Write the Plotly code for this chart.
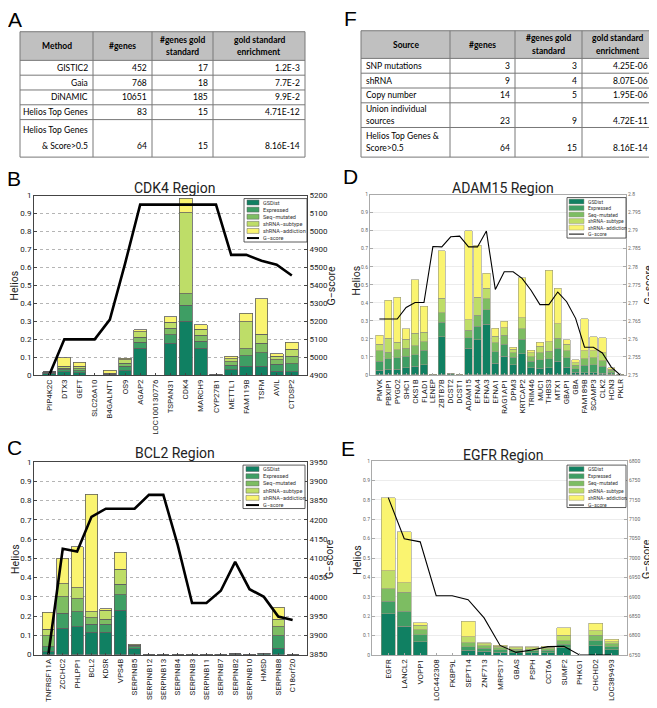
import plotly.graph_objects as go

# page body has an 8px margin; the figure is sized so it fills the 657x708 window
W, H = 657, 708
OFF = 8
FW, FH = W - OFF, H - OFF


def fx(x):
    return (x - OFF) / FW


def fy(y):
    return 1 - (y - OFF) / FH


# ---------------- shared series ----------------
series_names = ["GSDist", "Expressed", "Seq−mutated", "shRNA−subtype", "shRNA−addiction"]
line_name = "G−score"
series_colors = ["rgb(16,128,98)", "rgb(62,158,100)", "rgb(125,189,98)",
                 "rgb(190,221,104)", "rgb(250,244,112)"]

helios_tickvals = [0, 0.1, 0.2, 0.3, 0.4, 0.5, 0.6, 0.7, 0.8, 0.9, 1]
helios_ticktext = ["0", "0.1", "0.2", "0.3", "0.4", "0.5", "0.6", "0.7", "0.8", "0.9", "1"]

# ---------------- Table A ----------------
headers_A = ["Method", "#genes", "#genes gold<br>standard", "gold standard<br>enrichment"]
methods_A = ["GISTIC2", "Gaia", "DiNAMIC", "Helios Top Genes", "Helios Top Genes<br>& Score>0.5"]
ngenes_A = ["452", "768", "10651", "83", "64"]
ngold_A = ["17", "18", "185", "15", "15"]
enrich_A = ["1.2E-3", "7.7E-2", "9.9E-2", "4.71E-12", "8.16E-14"]

# ---------------- Table F ----------------
headers_F = ["Source", "#genes", "#genes gold<br>standard", "gold standard<br>enrichment"]
sources_F = ["SNP mutations", "shRNA", "Copy number", "Union individual<br>sources",
             "Helios Top Genes &<br>Score>0.5"]
ngenes_F = ["3", "9", "14", "23", "64"]
ngold_F = ["3", "4", "5", "9", "15"]
enrich_F = ["4.25E-06", "8.07E-06", "1.95E-06", "4.72E-11", "8.16E-14"]

# ---------------- Panel B : CDK4 ----------------
cats_B = ["PIP4K2C", "DTX3", "GEFT", "SLC26A10", "B4GALNT1", "OS9", "AGAP2", "LOC100130776",
          "TSPAN31", "CDK4", "MARCH9", "CYP27B1", "METTL1", "FAM119B", "TSFM", "AVIL", "CTDSP2"]
gsdist_B = [0.012, 0.02, 0.015, 0, 0.003, 0.025, 0.15, 0, 0.178, 0.30, 0.149, 0.005, 0.03, 0.05, 0.05, 0.022, 0.02]
expr_B = [0.004, 0.01, 0.01, 0, 0.002, 0.025, 0.033, 0, 0.048, 0.09, 0.041, 0.001, 0.025, 0.06, 0.075, 0.038, 0.045]
seqmut_B = [0.002, 0.01, 0.01, 0, 0.003, 0.018, 0.028, 0, 0.036, 0.063, 0.034, 0.001, 0.02, 0.037, 0.053, 0.025, 0.04]
subtype_B = [0.002, 0.01, 0.015, 0, 0.004, 0.017, 0.031, 0, 0.033, 0.452, 0.031, 0, 0.017, 0.15, 0.05, 0.02, 0.04]
addict_B = [0, 0.048, 0.022, 0, 0.016, 0.01, 0.011, 0, 0.03, 0.08, 0.025, 0, 0.014, 0.048, 0.197, 0.016, 0.04]
gscore_B = [4900, 5100, 5100, 5100, 5210, 5520, 5850, 5850, 5850, 5850, 5850, 5850, 5570, 5570, 5537, 5515, 5455]
g_tickvals_B = [4900, 5000, 5100, 5200, 5300, 5400, 5500, 5600, 5700, 5800, 5900]
g_ticktext_B = ["4900", "5000", "5100", "5200", "5300", "5400", "5500", "4900", "5000", "5100", "5200"]

# ---------------- Panel C : BCL2 ----------------
cats_C = ["TNFRSF11A", "ZCCHC2", "PHLPP1", "BCL2", "KDSR", "VPS4B", "SERPINB5", "SERPINB12",
          "SERPINB13", "SERPINB4", "SERPINB3", "SERPINB11", "SERPINB7", "SERPINB2", "SERPINB10",
          "HMSD", "SERPINB8", "C18orf20"]
gsdist_C = [0.015, 0.138, 0.144, 0.116, 0.117, 0.23, 0.03, 0, 0, 0, 0, 0, 0.002, 0.003, 0, 0.005, 0.034, 0]
expr_C = [0.026, 0.076, 0.078, 0.041, 0.04, 0.081, 0.01, 0, 0, 0, 0, 0, 0.001, 0.001, 0, 0.002, 0.063, 0]
seqmut_C = [0.056, 0.086, 0.067, 0.034, 0.028, 0.055, 0.005, 0, 0, 0, 0, 0, 0, 0.001, 0, 0.001, 0.047, 0]
subtype_C = [0.035, 0.067, 0.058, 0.033, 0.045, 0.078, 0.005, 0, 0, 0, 0, 0, 0, 0, 0, 0, 0.041, 0]
addict_C = [0.088, 0.133, 0.213, 0.609, 0.009, 0.088, 0.005, 0, 0, 0, 0, 0, 0, 0, 0, 0, 0.061, 0]
gscore_C = [3850, 4125, 4118, 4208, 4229, 4229, 4229, 4265, 4265, 4135, 3984, 3984, 4016, 4091,
            4020, 4000, 3949, 3940]
g_tickvals_C = [3850, 3900, 3950, 4000, 4050, 4100, 4150, 4200, 4250, 4300, 4350]
g_ticktext_C = ["3850", "3900", "3950", "4000", "4050", "4100", "4150", "4200", "3850", "3900", "3950"]

# ---------------- Panel D : ADAM15 ----------------
cats_D = ["PMVK", "PBXIP1", "PYGO2", "SHC1", "CKS1B", "FLAD1", "LENEP", "ZBTB7B", "DCST2", "DCST1",
          "ADAM15", "EFNA4", "EFNA3", "EFNA1", "RAG1AP1", "DPM3", "KRTCAP2", "TRIM46", "MUC1",
          "THBS3", "MTX1", "GBAP1", "GBA", "FAM189B", "SCAMP3", "CLK2", "HCN3", "PKLR"]
gsdist_D = [0.027, 0.031, 0.031, 0.04, 0.049, 0.058, 0, 0.213, 0.007, 0, 0.149, 0.195, 0.28, 0.065,
            0.104, 0.058, 0.118, 0.04, 0.036, 0.04, 0.076, 0.044, 0.016, 0.013, 0.013, 0.009, 0.005, 0.002]
expr_D = [0.048, 0.058, 0.064, 0.064, 0.062, 0.078, 0, 0.08, 0.002, 0, 0.058, 0.076, 0.082, 0.064,
          0.067, 0.04, 0.08, 0.035, 0.049, 0.051, 0.073, 0.051, 0.019, 0.042, 0.043, 0.04, 0.01, 0.001]
seqmut_D = [0.058, 0.038, 0.045, 0.043, 0.051, 0.049, 0, 0.052, 0.001, 0, 0.042, 0.06, 0.06, 0.051,
            0.049, 0.024, 0.058, 0.025, 0.037, 0.04, 0.055, 0.04, 0.018, 0.034, 0.039, 0.031, 0.01, 0.001]
subtype_D = [0.038, 0.077, 0.042, 0.051, 0.069, 0.051, 0, 0.08, 0, 0, 0.058, 0.099, 0.06, 0.036,
             0.042, 0.022, 0.062, 0.022, 0.036, 0.054, 0.081, 0.036, 0.014, 0.046, 0.04, 0.042, 0.007, 0.001]
addict_D = [0.049, 0.211, 0.248, 0.058, 0.296, 0.144, 0, 0.265, 0, 0, 0.493, 0.288, 0.082, 0.042,
            0.036, 0.011, 0.222, 0.014, 0.024, 0.395, 0.195, 0.024, 0.018, 0.176, 0.078, 0.085, 0.008, 0]
gscore_D = [2.7655, 2.7655, 2.7655, 2.7687, 2.7701, 2.7701, 2.7856, 2.7855, 2.7883, 2.7885, 2.7855,
            2.7855, 2.7899, 2.7737, 2.7786, 2.7786, 2.7768, 2.7735, 2.7695, 2.7695, 2.773, 2.7703,
            2.7657, 2.7577, 2.7577, 2.7561, 2.7522, 2.75]
g_tickvals_D = [2.75, 2.755, 2.76, 2.765, 2.77, 2.775, 2.78, 2.785, 2.79, 2.795, 2.8]
g_ticktext_D = ["2.75", "2.755", "2.76", "2.765", "2.77", "2.775", "2.78", "2.785", "2.79", "2.795", "2.8"]

# ---------------- Panel E : EGFR ----------------
cats_E = ["EGFR", "LANCL2", "VOPP1", "LOC442308", "FKBP9L", "SEPT14", "ZNF713", "MRPS17", "GBAS",
          "PSPH", "CCT6A", "SUMF2", "PHKG1", "CHCHD2", "LOC389493"]
gsdist_E = [0.213, 0.15, 0.068, 0, 0, 0.024, 0.02, 0.015, 0.012, 0.012, 0.013, 0.039, 0, 0.048, 0.027]
expr_E = [0.065, 0.077, 0.036, 0, 0, 0.019, 0.015, 0.013, 0.01, 0.01, 0.011, 0.017, 0, 0.025, 0.017]
seqmut_E = [0.065, 0.097, 0.027, 0, 0, 0.02, 0.013, 0.01, 0.008, 0.009, 0.009, 0.017, 0, 0.029, 0.014]
subtype_E = [0.092, 0.048, 0.024, 0, 0, 0.031, 0.01, 0.008, 0.007, 0.007, 0.007, 0.029, 0, 0.023, 0.012]
addict_E = [0.377, 0.263, 0.012, 0, 0, 0.08, 0.007, 0.005, 0.006, 0.006, 0.006, 0.038, 0, 0.039, 0.012]
gscore_E = [7156, 7050, 7042, 6903, 6903, 6893, 6846, 6775, 6757, 6763, 6772, 6773, 6750, 6750, 6750]
g_tickvals_E = [6750, 6800, 6850, 6900, 6950, 7000, 7050, 7100, 7150, 7200, 7250]
g_ticktext_E = ["6750", "6800", "6850", "6900", "6950", "7000", "7050", "7100", "7150", "6750", "6800"]

FONT = "Roboto, Liberation Sans, Arial"
TFONT = "Lato, Noto Sans, Liberation Sans"

fig = go.Figure()
shapes = []
annotations = []
layout_axes = {}


def text_at(x, y, text, size, color="#222", family=FONT, xanchor="center", angle=0):
    annotations.append(dict(x=fx(x), y=fy(y), xref="paper", yref="paper", text=text, showarrow=False,
                            xanchor=xanchor, yanchor="middle", textangle=angle,
                            font=dict(family=family, size=size, color=color)))


def hline(x0, x1, y, color, width):
    shapes.append(dict(type="line", xref="paper", yref="paper", x0=fx(x0), x1=fx(x1), y0=fy(y), y1=fy(y),
                       line=dict(color=color, width=width), layer="above"))


def vline(x, y0, y1, color, width):
    shapes.append(dict(type="line", xref="paper", yref="paper", x0=fx(x), x1=fx(x), y0=fy(y0), y1=fy(y1),
                       line=dict(color=color, width=width), layer="above"))


def draw_table(xs, ys, headers, columns, aligns, gap, fs):
    bc = "rgb(120,120,120)"
    shapes.append(dict(type="rect", xref="paper", yref="paper", x0=fx(xs[0]), x1=fx(xs[-1]),
                       y0=fy(ys[1]), y1=fy(ys[0]), fillcolor="rgb(192,192,192)",
                       line=dict(width=0), layer="below"))
    for y in ys:
        hline(xs[0], xs[-1], y, bc, 1)
    for x in xs:
        vline(x, ys[0], ys[-1], bc, 1)
    hc = (ys[0] + ys[1]) / 2
    for c, h in enumerate(headers):
        lines = h.split("<br>")
        cx = (xs[c] + xs[c + 1]) / 2
        for k, ln in enumerate(lines):
            text_at(cx, hc + (k - (len(lines) - 1) / 2) * 13, "<b>%s</b>" % ln, fs, "black", TFONT)
    nrows = len(columns[0])
    for r in range(nrows):
        top, bot = ys[r + 1], ys[r + 2]
        cen = (top + bot) / 2
        nl = max(len(col[r].split("<br>")) for col in columns)
        for c, col in enumerate(columns):
            lines = col[r].split("<br>")
            if aligns[c] == "right":
                tx, anc = xs[c + 1] - 3, "right"
            else:
                tx, anc = xs[c] + 3, "left"
            for k, ln in enumerate(lines):
                slot = nl - len(lines) + k
                ty = cen + (slot - (nl - 1) / 2) * gap
                text_at(tx, ty, ln, fs, "black", TFONT, xanchor=anc)


draw_table([20, 93, 152, 213, 305], [28, 57, 72, 87, 102, 117, 155], headers_A,
           [methods_A, ngenes_A, ngold_A, enrich_A], ["right", "right", "right", "right"], 16, 8.5)
draw_table([361, 450, 515, 582, 653], [27, 55, 70, 85, 100, 125, 155], headers_F,
           [sources_F, ngenes_F, ngold_F, enrich_F], ["left", "right", "right", "right"], 12.5, 8.5)


def add_panel(idx, cats, series, gscore, g_range, g_vals, g_text, cfg):
    xname = "x" if idx == 1 else "x%d" % idx
    yl = "y%d" % (2 * idx - 1) if idx > 1 else "y"
    yr = "y%d" % (2 * idx)
    big = cfg["big"]
    edge = "rgb(95,95,95)" if big else "rgb(150,150,130)"
    for name, vals, col in zip(series_names, series, series_colors):
        fig.add_trace(go.Bar(x=cats, y=vals, name=name,
                             marker=dict(color=col, line=dict(color=edge, width=0.8 if big else 0.6)),
                             width=cfg["bw"], xaxis=xname, yaxis=yl, showlegend=False))
    fig.add_trace(go.Scatter(x=cats, y=gscore, mode="lines", name=line_name,
                             line=dict(color="black", width=2.6 if big else 1.1),
                             xaxis=xname, yaxis=yr, showlegend=False, cliponaxis=False))
    x0, x1, y0, y1 = cfg["dom"]
    tick_font = dict(family=FONT, size=8 if big else 5, color="#222" if big else "#666")
    axcol = "#444" if big else "#aaa"
    xkey = "xaxis" if idx == 1 else "xaxis%d" % idx
    ylkey = "yaxis" if idx == 1 else "yaxis%d" % (2 * idx - 1)
    yrkey = "yaxis%d" % (2 * idx)
    layout_axes[xkey] = dict(domain=[fx(x0), fx(x1)], anchor=yl, type="category",
                             range=list(cfg["xr"]), tickangle=-90, tickmode="array",
                             tickvals=cats, ticktext=cats,
                             tickfont=dict(family=FONT, size=8, color="#222"),
                             showline=True, linecolor=axcol, linewidth=1, mirror=True,
                             ticks="inside", ticklen=2, tickcolor=axcol, showgrid=False)
    layout_axes[ylkey] = dict(domain=[fy(y1), fy(y0)], anchor=xname, range=[0, 1],
                              tickvals=helios_tickvals, ticktext=helios_ticktext, tickfont=tick_font,
                              showline=True, linecolor=axcol, linewidth=1, ticks="inside", ticklen=3,
                              tickcolor=axcol, showgrid=True,
                              gridcolor="#b5b5b5" if big else "#ececec",
                              griddash="dot" if big else "solid", gridwidth=1, zeroline=False)
    layout_axes[yrkey] = dict(overlaying=yl, side="right", anchor=xname, range=list(g_range),
                              tickvals=g_vals, ticktext=g_text, tickfont=tick_font,
                              showline=True, linecolor=axcol, linewidth=1, ticks="inside", ticklen=3,
                              tickcolor=axcol, showgrid=False, zeroline=False)
    tx, ty = cfg["title_xy"]
    text_at(tx, ty, cfg["title"], 14, "#222")
    lx, ly = cfg["letter_xy"]
    text_at(lx, ly, cfg["letter"], 21, "black", "Liberation Sans")
    hx, hy = cfg["helios_xy"]
    text_at(hx, hy, "Helios", 10.5, "#222", angle=-90)
    gx, gy = cfg["g_xy"]
    text_at(gx, gy, line_name, 10.5, "#222", angle=-90)
    bx0, bx1, by0, by1 = cfg["leg_box"]
    shapes.append(dict(type="rect", xref="paper", yref="paper", x0=fx(bx0), x1=fx(bx1), y0=fy(by1), y1=fy(by0),
                       fillcolor="white", line=dict(color="#333", width=0.8), layer="above"))
    px0, px1 = cfg["leg_patch"]
    rows = cfg["leg_rows"]
    fs = cfg["leg_fs"]
    for i, (name, col) in enumerate(zip(series_names, series_colors)):
        shapes.append(dict(type="rect", xref="paper", yref="paper", x0=fx(px0), x1=fx(px1),
                           y0=fy(rows[i] + 2.5), y1=fy(rows[i] - 2.5), fillcolor=col,
                           line=dict(color=edge, width=0.5), layer="above"))
        text_at(px1 + 2, rows[i], name, fs, "#333", xanchor="left")
    hline(px0, px1, rows[5], "black", 2 if big else 1)
    text_at(px1 + 2, rows[5], line_name, fs, "#333", xanchor="left")


add_panel(1, cats_B, [gsdist_B, expr_B, seqmut_B, subtype_B, addict_B], gscore_B, (4900, 5900),
          g_tickvals_B, g_ticktext_B,
          dict(big=True, bw=0.85, dom=(34, 307, 194, 376), xr=(-1, 17), title="CDK4 Region",
               title_xy=(174, 186), letter="B", letter_xy=(14, 177), helios_xy=(14, 285), g_xy=(331, 285),
               leg_box=(244, 307, 197, 241), leg_patch=(247, 259),
               leg_rows=[201, 208.2, 215.4, 222.6, 229.8, 237], leg_fs=5.5))
add_panel(2, cats_C, [gsdist_C, expr_C, seqmut_C, subtype_C, addict_C], gscore_C, (3850, 4350),
          g_tickvals_C, g_ticktext_C,
          dict(big=True, bw=0.85, dom=(34, 307, 464, 659), xr=(-1, 18), title="BCL2 Region",
               title_xy=(175, 455), letter="C", letter_xy=(14, 449), helios_xy=(16, 562), g_xy=(330, 562),
               leg_box=(243, 305, 467, 511), leg_patch=(246, 259),
               leg_rows=[471, 478.3, 485.6, 492.9, 500.2, 507.5], leg_fs=5.5))
add_panel(3, cats_D, [gsdist_D, expr_D, seqmut_D, subtype_D, addict_D], gscore_D, (2.75, 2.8),
          g_tickvals_D, g_ticktext_D,
          dict(big=False, bw=0.82, dom=(370, 626, 193, 375.7), xr=(-1.05, 27.65), title="ADAM15 Region",
               title_xy=(503, 186), letter="D", letter_xy=(350, 175), helios_xy=(357, 280), g_xy=(648, 284),
               leg_box=(567, 626, 196, 237), leg_patch=(569, 584),
               leg_rows=[200, 206.6, 213.2, 219.8, 226.4, 233], leg_fs=5))
add_panel(4, cats_E, [gsdist_E, expr_E, seqmut_E, subtype_E, addict_E], gscore_E, (6750, 7250),
          g_tickvals_E, g_ticktext_E,
          dict(big=False, bw=0.87, dom=(372, 627, 463, 659.5), xr=(-1.02, 14.95), title="EGFR Region",
               title_xy=(503, 457), letter="E", letter_xy=(348, 450), helios_xy=(358, 563), g_xy=(647, 562),
               leg_box=(567, 626, 467, 510), leg_patch=(569, 584),
               leg_rows=[471, 478.3, 485.6, 492.9, 500.2, 507.5], leg_fs=5))

text_at(15, 16, "A", 21, "black", "Liberation Sans")
text_at(350, 15, "F", 21, "black", "Liberation Sans")

fig.update_layout(width=FW, height=FH, margin=dict(l=0, r=0, t=0, b=0), barmode="stack",
                  plot_bgcolor="white", paper_bgcolor="white", showlegend=False,
                  shapes=shapes, annotations=annotations, **layout_axes)

fig.write_html("out.html")
